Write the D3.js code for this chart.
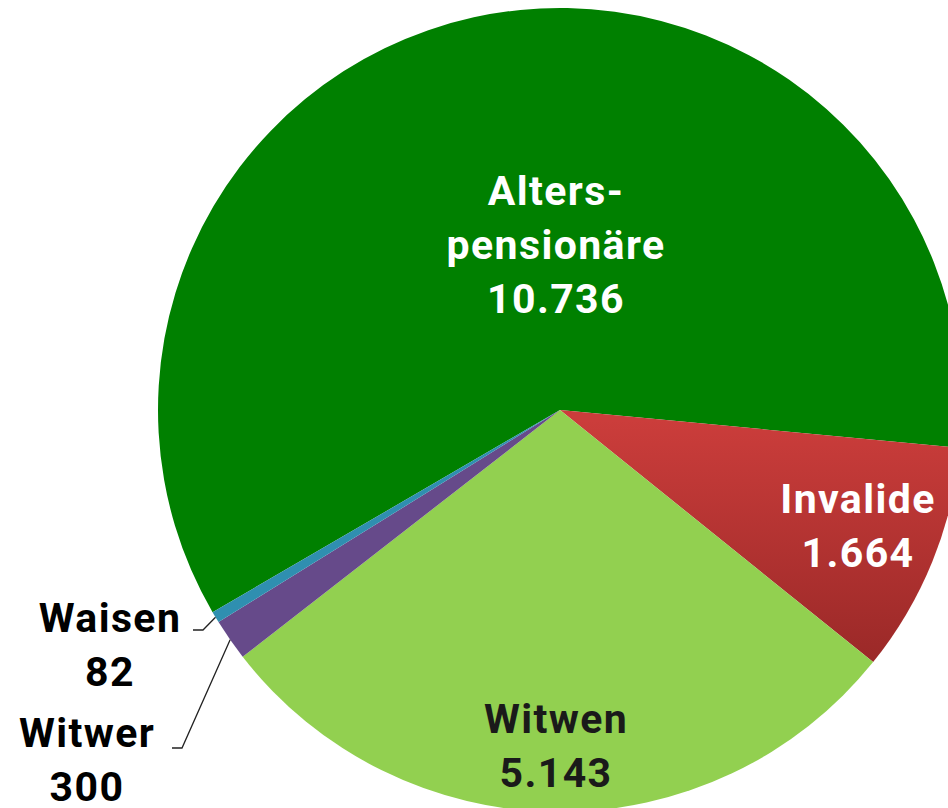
<!DOCTYPE html>
<html>
<head>
<meta charset="utf-8">
<script src="https://cdn.jsdelivr.net/npm/d3@7"></script>
<style>
  body { margin: 0; background: #fff; }
  svg { display: block; }
  text { font-family: Roboto, "DejaVu Sans", sans-serif; font-weight: bold; letter-spacing: 1.4px; }
</style>
</head>
<body>
<div id="canvas"></div>
<script>
// chart data
const categories = ["Alterspensionäre", "Invalide", "Witwen", "Witwer", "Waisen"];
const values = [10736, 1664, 5143, 300, 82];
const labelLines = [["Alters-", "pensionäre"], ["Invalide"], ["Witwen"], ["Witwer"], ["Waisen"]];

const colors = ["#008000", "url(#redGrad)", "#92d050", "#664a8a", "#2f8fb0"];

let width = 948, height = 808;
let cx = 560, cy = 410, radius = 402;

// first slice begins at roughly 8 o'clock
let startDeg = -120.2;

// label anchors (relative to centre) and text colours
const labelPos = [[-4, -205], [298, 103], [-4, 323], [-473, 337], [-450, 222]];
const labelColor = ["#fff", "#fff", "#1a1a1a", "#000", "#000"];
const lineHeight = 54;

let svg = d3.select("#canvas")
  .append("svg")
  .attr("width", width)
  .attr("height", height);

let defs = svg.append("defs");
let grad = defs.append("linearGradient")
  .attr("id", "redGrad")
  .attr("gradientUnits", "userSpaceOnUse")
  .attr("x1", 0).attr("y1", 10)
  .attr("x2", 0).attr("y2", 260);
grad.append("stop").attr("offset", "0%").attr("stop-color", "#cb3d3b");
grad.append("stop").attr("offset", "100%").attr("stop-color", "#992827");

let data = categories.map((c, i) => ({ name: c, value: values[i], i: i }));

let pie = d3.pie()
  .sort(null)
  .value(d => d.value)
  .startAngle(startDeg * Math.PI / 180)
  .endAngle(startDeg * Math.PI / 180 + 2 * Math.PI);

let arc = d3.arc().innerRadius(0).outerRadius(radius);
let edgeArc = d3.arc().innerRadius(radius).outerRadius(radius);

let g = svg.append("g").attr("transform", "translate(" + cx + "," + cy + ")");

let arcs = pie(data);

g.selectAll(".slice")
  .data(arcs)
  .enter()
  .append("path")
  .attr("class", "slice")
  .attr("d", arc)
  .attr("fill", d => colors[d.data.i]);

// number formatting with German thousands separator
let fmt = d3.formatLocale({ decimal: ",", thousands: ".", grouping: [3], currency: ["", "€"] }).format(",d");

// leader lines for the two small slices
arcs.filter(d => d.data.i >= 3).forEach(d => {
  let p = edgeArc.centroid(d);
  let ex = d.data.i === 3 ? -388 : -367;
  let ey = d.data.i === 3 ? 338 : 220;
  g.append("polyline")
    .attr("points", [[ex, ey], [ex + 10, ey], p].map(q => q.join(",")).join(" "))
    .attr("fill", "none")
    .attr("stroke", "#222")
    .attr("stroke-width", 1.3);
});

// labels
arcs.forEach(d => {
  let i = d.data.i;
  let lines = labelLines[i].concat([fmt(d.data.value)]);
  let t = g.append("text")
    .attr("text-anchor", "middle")
    .attr("font-size", 41)
    .attr("fill", labelColor[i]);
  lines.forEach((s, k) => {
    t.append("tspan")
      .attr("x", labelPos[i][0])
      .attr("y", labelPos[i][1] + k * lineHeight)
      .text(s);
  });
});
</script>
</body>
</html>
